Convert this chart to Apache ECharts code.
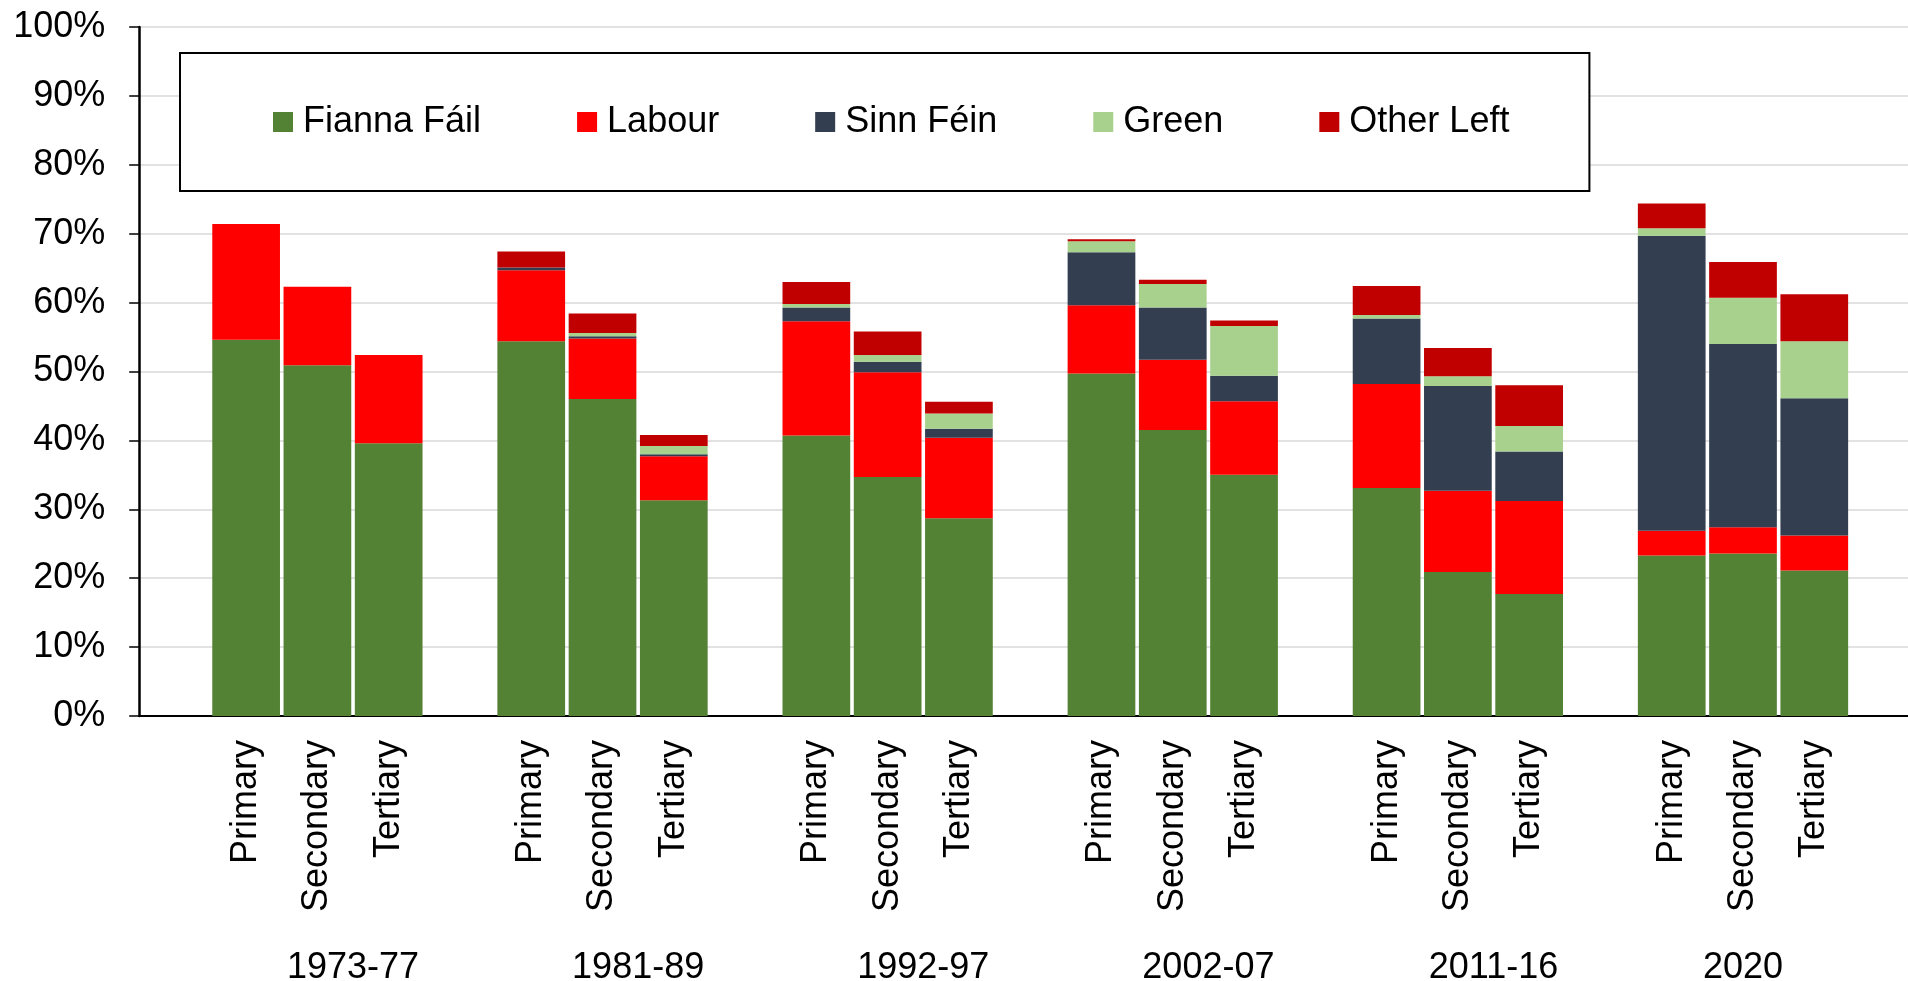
<!DOCTYPE html>
<html>
<head>
<meta charset="utf-8">
<script src="https://cdn.jsdelivr.net/npm/echarts@6/dist/echarts.min.js"></script>
<style>
html,body{margin:0;padding:0;background:#fff;}
#chart{width:1908px;height:981px;}
</style>
</head>
<body>
<div id="chart"></div>
<script>
// ---- data ----
const periods = ['1973-77', '1981-89', '1992-97', '2002-07', '2011-16', '2020'];
const levels = ['Primary', 'Secondary', 'Tertiary'];
const seriesNames = ['Fianna Fáil', 'Labour', 'Sinn Féin', 'Green', 'Other Left'];
const yTicks = [0, 10, 20, 30, 40, 50, 60, 70, 80, 90, 100];

// values in % (per period: Primary, Secondary, Tertiary)
const fiannaFail = [54.6, 50.9, 39.6, 54.4, 46.0, 31.3, 40.7, 34.7, 28.7, 49.7, 41.5, 35.0, 33.1, 20.9, 17.7, 23.3, 23.6, 21.1];
const labour     = [16.8, 11.4, 12.8, 10.3, 8.8, 6.4, 16.6, 15.2, 11.7, 9.9, 10.2, 10.7, 15.1, 11.8, 13.5, 3.6, 3.8, 5.1];
const sinnFein   = [0, 0, 0, 0.4, 0.3, 0.3, 2.0, 1.5, 1.3, 7.7, 7.6, 3.7, 9.5, 15.2, 7.2, 42.8, 26.6, 19.9];
const green      = [0, 0, 0, 0, 0.5, 1.2, 0.5, 1.0, 2.2, 1.6, 3.4, 7.2, 0.5, 1.4, 3.7, 1.1, 6.7, 8.3];
const otherLeft  = [0, 0, 0, 2.3, 2.8, 1.6, 3.2, 3.4, 1.7, 0.3, 0.6, 0.8, 4.2, 4.1, 5.9, 3.6, 5.2, 6.8];

const colors = ['#548235', '#FF0000', '#333F50', '#A9D18E', '#C00000'];

// ---- build category layout: blank, then each period P,S,T, blank ----
const categories = [''];
const periodSpans = [];
periods.forEach(function (p, g) {
  const start = categories.length;
  levels.forEach(function (l) { categories.push(l); });
  categories.push('');
  periodSpans.push(start);
});
function expand(arr) {
  const out = ['-'];
  periods.forEach(function (p, g) {
    for (let k = 0; k < levels.length; k++) out.push(arr[g * levels.length + k]);
    out.push('-');
  });
  return out;
}
// group label centre: span from period start to next period start (last: its own 3 levels)
const groupCentres = periodSpans.map(function (s, g) {
  const end = g < periods.length - 1 ? periodSpans[g + 1] : s + levels.length;
  return (s + end) / 2;
});

const allValues = [fiannaFail, labour, sinnFein, green, otherLeft];
const FONT = '"Liberation Sans", Arial, sans-serif';

const chart = echarts.init(document.getElementById('chart'), null, {renderer: 'canvas'});
chart.setOption({
  animation: false,
  backgroundColor: '#fff',
  color: colors,
  grid: {left: 139.2, right: -13.2, top: 27, bottom: 265, containLabel: false, outerBoundsMode: 'none'},
  legend: {
    data: seriesNames,
    left: 180,
    top: 53,
    orient: 'horizontal',
    icon: 'rect',
    itemWidth: 20,
    itemHeight: 20,
    itemGap: 96,
    padding: [51, 80, 51, 93],
    borderColor: '#000',
    borderWidth: 2,
    backgroundColor: '#fff',
    textStyle: {fontFamily: FONT, fontSize: 36, color: '#000', padding: [0, 0, 0, 5]}
  },
  xAxis: [{
    type: 'category',
    data: categories,
    gridIndex: 0,
    axisLine: {show: true, lineStyle: {color: '#000', width: 2}},
    axisTick: {show: false},
    splitLine: {show: false},
    axisLabel: {interval: 0, rotate: 90, margin: 24, fontFamily: FONT, fontSize: 36, color: '#000'}
  }, {
    type: 'value',
    gridIndex: 0,
    position: 'bottom',
    min: 0,
    max: categories.length,
    interval: 0.5,
    axisLine: {show: false},
    axisTick: {show: false},
    splitLine: {show: false},
    axisLabel: {
      margin: 234,
      verticalAlign: 'top',
      fontFamily: FONT, fontSize: 36, color: '#000',
      formatter: function (v) {
        for (let i = 0; i < groupCentres.length; i++) {
          if (Math.abs(groupCentres[i] - v) < 1e-6) return periods[i];
        }
        return '';
      }
    }
  }],
  yAxis: {
    type: 'value',
    min: yTicks[0],
    max: yTicks[yTicks.length - 1],
    interval: yTicks[1] - yTicks[0],
    axisLine: {show: true, lineStyle: {color: '#000', width: 2.5}},
    axisTick: {show: true, length: 10, lineStyle: {color: '#000', width: 1.5}},
    splitLine: {show: true, lineStyle: {color: '#d9d9d9', width: 1.5}},
    axisLabel: {margin: 34, fontFamily: FONT, fontSize: 36, color: '#000', formatter: '{value}%'}
  },
  series: seriesNames.map(function (name, i) {
    return {
      name: name,
      type: 'bar',
      stack: 'total',
      xAxisIndex: 0,
      barCategoryGap: '5%',
      itemStyle: {color: colors[i]},
      data: expand(allValues[i])
    };
  })
});
</script>
</body>
</html>
